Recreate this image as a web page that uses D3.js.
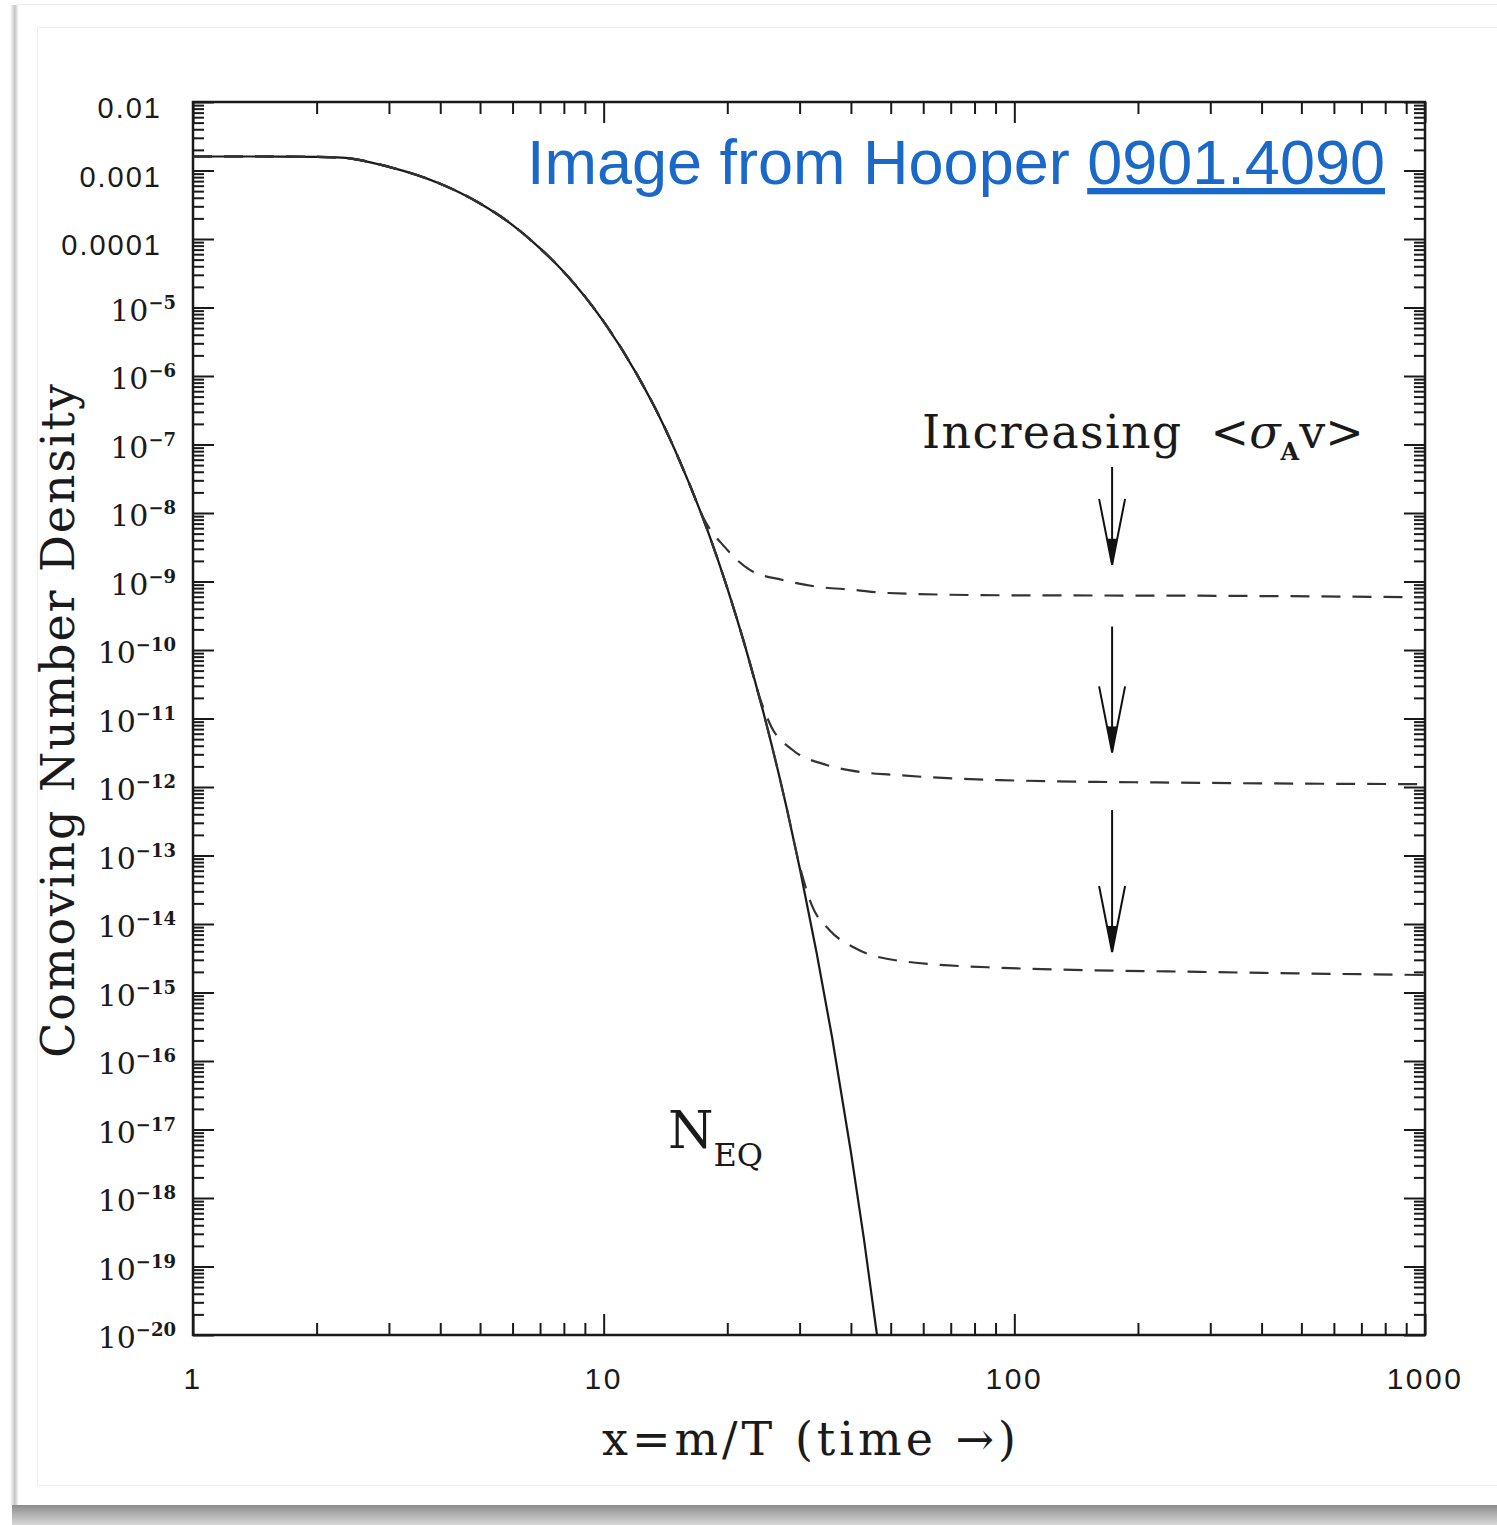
<!DOCTYPE html>
<html>
<head>
<meta charset="utf-8">
<script src="https://cdn.jsdelivr.net/npm/d3@7"></script>
<style>
  body { margin:0; background:#fff; }
  svg { display:block; }
</style>
</head>
<body>
<svg id="chart"></svg>
<script>
// equilibrium curve N_EQ
var eqX = [1, 1.5, 2, 2.3, 3, 4, 5, 6, 7, 8, 10, 12, 14, 16, 18, 20, 22, 25, 28, 30, 33, 36, 40, 43, 46.3];
var eqN = [1.6e-3, 1.6e-3, 1.58e-3, 1.54e-3, 1.13e-3, 6.4e-4, 3.3e-4, 1.6e-4, 7.3e-5, 3.3e-5, 6.2e-6, 1.1e-6,
           1.9e-7, 3.1e-8, 5.1e-9, 8.0e-10, 1.25e-10, 7.6e-12, 4.5e-13, 6.7e-14, 3.8e-15, 2.2e-16, 4.7e-18, 2.6e-19, 1.0e-20];

// freeze-out curves (dashed), follow N_EQ then level off
var fo1X = [1, 1.5, 2, 2.3, 3, 4, 5, 6, 7, 8, 10, 12, 14, 16, 17.6, 19.7, 22.7, 27.3, 33.5, 40.4, 48.8, 92, 282, 1000];
var fo1N = [1.6e-3, 1.6e-3, 1.58e-3, 1.54e-3, 1.13e-3, 6.4e-4, 3.3e-4, 1.6e-4, 7.3e-5, 3.3e-5, 6.2e-6, 1.1e-6,
            1.9e-7, 3.1e-8, 7.9e-9, 3.2e-9, 1.48e-9, 1.05e-9, 8.3e-10, 7.6e-10, 6.8e-10, 6.3e-10, 6.2e-10, 5.9e-10];
var fo2X = [1, 1.5, 2, 2.3, 3, 4, 5, 6, 7, 8, 10, 12, 14, 16, 18, 20, 22, 24, 25.6, 28.8, 34.9, 42, 50.5, 92, 282, 1000];
var fo2N = [1.6e-3, 1.6e-3, 1.58e-3, 1.54e-3, 1.13e-3, 6.4e-4, 3.3e-4, 1.6e-4, 7.3e-5, 3.3e-5, 6.2e-6, 1.1e-6,
            1.9e-7, 3.1e-8, 5.1e-9, 8.0e-10, 1.25e-10, 2.0e-11, 7.6e-12, 3.5e-12, 2.1e-12, 1.66e-12, 1.51e-12, 1.26e-12, 1.15e-12, 1.10e-12];
var fo3X = [1, 1.5, 2, 2.3, 3, 4, 5, 6, 7, 8, 10, 12, 14, 16, 18, 20, 22, 25, 28, 30, 32.1, 35.5, 40.8, 52.5, 92, 282, 1000];
var fo3N = [1.6e-3, 1.6e-3, 1.58e-3, 1.54e-3, 1.13e-3, 6.4e-4, 3.3e-4, 1.6e-4, 7.3e-5, 3.3e-5, 6.2e-6, 1.1e-6,
            1.9e-7, 3.1e-8, 5.1e-9, 8.0e-10, 1.25e-10, 7.6e-12, 4.5e-13, 7.1e-14, 1.9e-14, 8.1e-15, 4.5e-15, 2.9e-15, 2.3e-15, 2.0e-15, 1.8e-15];

// arrows "Increasing <sigma v>"
var arrowX = 173;
var arrowTop = [4.7e-8, 2.2e-10, 4.6e-13];
var arrowTip = [1.75e-9, 3.2e-12, 3.9e-15];

// axis ticks
var xMajor = [1, 10, 100, 1000];
var xLabels = ["1", "10", "100", "1000"];
var yExp = [-2, -3, -4, -5, -6, -7, -8, -9, -10, -11, -12, -13, -14, -15, -16, -17, -18, -19, -20];
var ySansLabels = {"-2": "0.01", "-3": "0.001", "-4": "0.0001"};

var W = 1497, H = 1525;
var m = {left:193, top:102, right:1425, bottom:1335};

window.onload = function(){
  var svg = d3.select('#chart').attr('width', W).attr('height', H);
  drawCard(svg);

  var x = d3.scaleLog().domain([1, 1000]).range([m.left, m.right]);
  var y = d3.scaleLog().domain([1e-20, 1e-2]).range([m.bottom, m.top]);

  drawAxes(svg, x, y);

  var line = d3.line().x(function(d){ return x(d[0]); }).y(function(d){ return y(d[1]); })
    .curve(d3.curveMonotoneX);
  var zip = function(a, b){ return a.map(function(v, i){ return [v, b[i]]; }); };

  var curves = svg.append('g').attr('fill', 'none').attr('stroke', '#1a1a1a');
  curves.append('path').attr('d', line(zip(eqX, eqN))).attr('stroke-width', 2.2);
  [[fo1X, fo1N], [fo2X, fo2N], [fo3X, fo3N]].forEach(function(c){
    curves.append('path').attr('d', line(zip(c[0], c[1])))
      .attr('stroke-width', 2.2).attr('stroke-dasharray', '19,12').attr('stroke', '#333');
  });

  // arrows
  var ag = svg.append('g').attr('stroke', '#111').attr('fill', 'none').attr('stroke-width', 2);
  arrowTop.forEach(function(t, i){
    var ax = x(arrowX), y0 = y(t), y1 = y(arrowTip[i]);
    ag.append('line').attr('x1', ax).attr('x2', ax).attr('y1', y0).attr('y2', y1);
    ag.append('path').attr('d', 'M' + (ax - 13) + ',' + (y1 - 66) + 'L' + ax + ',' + y1 + 'L' + (ax + 13) + ',' + (y1 - 66));
    ag.append('path').attr('d', 'M' + (ax - 4) + ',' + (y1 - 26) + 'L' + ax + ',' + y1 + 'L' + (ax + 4) + ',' + (y1 - 26))
      .attr('fill', '#111').attr('stroke-width', 1);
  });

  // annotation text
  var serif = '"DejaVu Serif", "Liberation Serif", serif';
  var inc = svg.append('text').attr('x', 922).attr('y', 448).attr('font-family', serif)
    .attr('font-size', 46).attr('fill', '#1a1a1a');
  inc.append('tspan').attr('letter-spacing', 1.3).text('Increasing');
  inc.append('tspan').attr('dx', 28).text('<');
  inc.append('tspan').attr('font-style', 'italic').text('σ');
  inc.append('tspan').attr('font-size', 24).attr('font-weight', 'bold').attr('dy', 12).text('A');
  inc.append('tspan').attr('dy', -12).text('v>');

  var neq = svg.append('text').attr('x', 668).attr('y', 1148).attr('font-family', serif)
    .attr('font-size', 52).attr('fill', '#1a1a1a');
  neq.append('tspan').text('N');
  neq.append('tspan').attr('font-size', 32).attr('dy', 18).text('EQ');

  svg.append('text').attr('x', 811).attr('y', 1455).attr('text-anchor', 'middle')
    .attr('font-family', serif).attr('font-size', 46).attr('letter-spacing', 4).attr('fill', '#1a1a1a')
    .text('x=m/T (time \u2192)');

  svg.append('text').attr('transform', 'translate(74,720) rotate(-90)').attr('text-anchor', 'middle')
    .attr('font-family', serif).attr('font-size', 46).attr('letter-spacing', 1.9).attr('fill', '#1a1a1a')
    .text('Comoving Number Density');

  var credit = svg.append('text').attr('x', 1385).attr('y', 184).attr('text-anchor', 'end')
    .attr('font-family', '"Liberation Sans", Arial, sans-serif').attr('font-size', 63).attr('fill', '#1a68c8');
  credit.append('tspan').text('Image from Hooper ');
  credit.append('tspan').attr('text-decoration', 'underline').text('0901.4090');
};

function drawCard(svg){
  var defs = svg.append('defs');
  var gb = defs.append('linearGradient').attr('id', 'shb').attr('x1', 0).attr('x2', 0).attr('y1', 0).attr('y2', 1);
  gb.append('stop').attr('offset', 0).attr('stop-color', '#8c8c8c');
  gb.append('stop').attr('offset', 1).attr('stop-color', '#d8d8d8');
  var gl = defs.append('linearGradient').attr('id', 'shl').attr('x1', 0).attr('x2', 1).attr('y1', 0).attr('y2', 0);
  gl.append('stop').attr('offset', 0).attr('stop-color', '#ffffff');
  gl.append('stop').attr('offset', 0.6).attr('stop-color', '#c4c4c4');
  gl.append('stop').attr('offset', 1).attr('stop-color', '#f4f4f4');

  svg.append('rect').attr('width', W).attr('height', H).attr('fill', '#fff');
  svg.append('rect').attr('x', 10).attr('y', 5).attr('width', 8).attr('height', 1500).attr('fill', 'url(#shl)');
  svg.append('rect').attr('x', 12).attr('y', 1505).attr('width', W - 12).attr('height', 20).attr('fill', 'url(#shb)');
  svg.append('line').attr('x1', 17).attr('x2', W).attr('y1', 4.5).attr('y2', 4.5).attr('stroke', '#ececec');
  svg.append('path').attr('d', 'M' + W + ',27.5H37.5V1485.5H' + W).attr('fill', 'none').attr('stroke', '#eeeeee');
}

function drawAxes(svg, x, y){
  var xMinor = [], yMinor = [];
  for (var d = 1; d < 1000; d *= 10) for (var k = 2; k <= 9; k++) xMinor.push(d * k);
  yExp.forEach(function(e){ if (e < -2) for (var k = 2; k <= 9; k++) yMinor.push(k * Math.pow(10, e)); });
  var yMajor = yExp.map(function(e){ return Math.pow(10, e); });

  var ax = svg.append('g').attr('class', 'axes');
  function ticks(axis, vals, size, tr){
    var g = ax.append('g').attr('transform', tr)
      .call(axis.tickValues(vals).tickSize(size).tickFormat(''));
    g.select('.domain').remove();
    g.selectAll('line').attr('stroke', '#1a1a1a').attr('stroke-width', 2);
  }
  ticks(d3.axisBottom(x), xMinor, -12, 'translate(0,' + m.bottom + ')');
  ticks(d3.axisBottom(x), xMajor, -21, 'translate(0,' + m.bottom + ')');
  ticks(d3.axisTop(x), xMinor, -12, 'translate(0,' + m.top + ')');
  ticks(d3.axisTop(x), xMajor, -21, 'translate(0,' + m.top + ')');
  ticks(d3.axisLeft(y), yMinor, -11, 'translate(' + m.left + ',0)');
  ticks(d3.axisLeft(y), yMajor, -21, 'translate(' + m.left + ',0)');
  ticks(d3.axisRight(y), yMinor, -11, 'translate(' + m.right + ',0)');
  ticks(d3.axisRight(y), yMajor, -21, 'translate(' + m.right + ',0)');

  ax.append('rect').attr('x', m.left).attr('y', m.top).attr('width', m.right - m.left)
    .attr('height', m.bottom - m.top).attr('fill', 'none').attr('stroke', '#1a1a1a').attr('stroke-width', 2.5);

  var sans = '"Liberation Sans", Arial, sans-serif';
  var serif = '"DejaVu Serif", "Liberation Serif", serif';
  xMajor.forEach(function(v, i){
    ax.append('text').attr('x', x(v)).attr('y', 1389).attr('text-anchor', 'middle')
      .attr('font-family', sans).attr('font-size', 30).attr('letter-spacing', 2.5).attr('fill', '#1a1a1a').text(xLabels[i]);
  });
  yExp.forEach(function(e){
    var v = Math.pow(10, e);
    if (ySansLabels[e]) {
      ax.append('text').attr('x', 162).attr('y', y(v) + 16).attr('text-anchor', 'end')
        .attr('font-family', sans).attr('font-size', 29).attr('letter-spacing', 2).attr('fill', '#1a1a1a').text(ySansLabels[e]);
    } else {
      var t = ax.append('text').attr('x', 176).attr('y', y(v) + 13).attr('text-anchor', 'end')
        .attr('font-family', serif).attr('font-size', 30).attr('fill', '#1a1a1a');
      t.append('tspan').text('10');
      t.append('tspan').attr('font-size', 18).attr('font-weight', 'bold').attr('dy', -12).text('\u2212' + (-e));
    }
  });
}
</script>
</body>
</html>
